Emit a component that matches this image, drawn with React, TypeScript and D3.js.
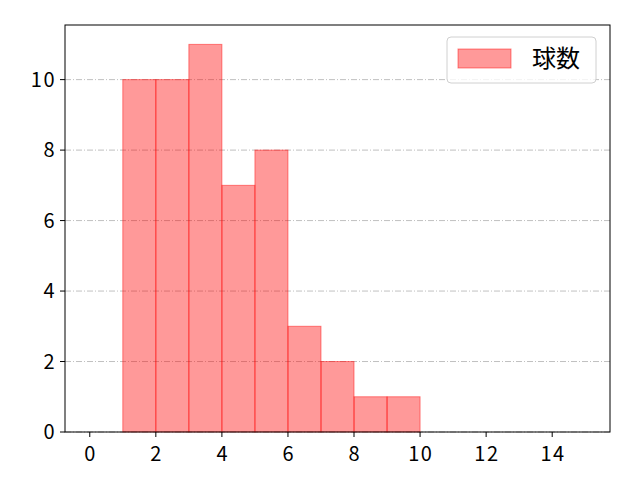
import React from 'react'
import * as d3 from 'd3'

// histogram bins (left edges) and counts
const binEdges = [0, 1, 2, 3, 4, 5, 6, 7, 8, 9, 10, 11, 12, 13, 14, 15]
const counts = [0, 10, 10, 11, 7, 8, 3, 2, 1, 1, 0, 0, 0, 0, 0]
const xTicks = [0, 2, 4, 6, 8, 10, 12, 14]
const yTicks = [0, 2, 4, 6, 8, 10]
const legendLabel = '球数'

const W = 640
const H = 480
const MARGIN = { top: 25, right: 30, bottom: 48, left: 65 }
const FONT = '"Noto Sans CJK JP", "Noto Sans", sans-serif'

export default function App() {
  const x = d3.scaleLinear().domain([-0.75, 15.75]).range([MARGIN.left, W - MARGIN.right])
  const yMax = (d3.max(counts) || 0) * 1.05
  const y = d3.scaleLinear().domain([0, yMax]).range([H - MARGIN.bottom, MARGIN.top])

  const x0 = MARGIN.left
  const x1 = W - MARGIN.right
  const y0 = H - MARGIN.bottom
  const y1 = MARGIN.top

  return (
    <svg width={W} height={H} style={{ position: 'absolute', left: 0, top: 0, background: '#fff' }}>
      {/* grid */}
      {yTicks.map((t) => (
        <line key={'g' + t} x1={x0} x2={x1} y1={y(t)} y2={y(t)}
          stroke="#b0b0b0" strokeWidth={0.8} strokeDasharray="6 2 1 2" />
      ))}
      {/* bars */}
      {counts.map((c, i) => (
        <rect key={i}
          x={x(binEdges[i])} width={x(binEdges[i + 1]) - x(binEdges[i])}
          y={y(c)} height={y(0) - y(c)}
          fill="#ff0000" fillOpacity={0.4}
          stroke="#ff0000" strokeOpacity={0.45} strokeWidth={1} />
      ))}
      {/* axes frame */}
      <rect x={x0} y={y1} width={x1 - x0} height={y0 - y1} fill="none" stroke="#000" strokeWidth={1} />
      {xTicks.map((t) => (
        <g key={'x' + t}>
          <line x1={x(t)} x2={x(t)} y1={y0} y2={y0 + 5} stroke="#000" />
          <text x={x(t) + 0.8} y={y0 + 29} textAnchor="middle" fontSize={20} letterSpacing={1.5}
            fontFamily={FONT} fill="#000">{t}</text>
        </g>
      ))}
      {yTicks.map((t) => (
        <g key={'y' + t}>
          <line x1={x0 - 5} x2={x0} y1={y(t)} y2={y(t)} stroke="#000" />
          <text x={x0 - 9} y={y(t) + 7} textAnchor="end" fontSize={20} letterSpacing={1.5}
            fontFamily={FONT} fill="#000">{t}</text>
        </g>
      ))}
      {/* legend */}
      <g>
        <rect x={447} y={37} width={149} height={46} rx={4} fill="#fff" fillOpacity={0.8} stroke="#d0d0d0" />
        <rect x={458} y={49} width={53} height={19} fill="#ff0000" fillOpacity={0.4} stroke="#ff0000" strokeOpacity={0.45} />
        <text x={532} y={67} fontSize={24} fontFamily={FONT} fill="#000">{legendLabel}</text>
      </g>
    </svg>
  )
}
